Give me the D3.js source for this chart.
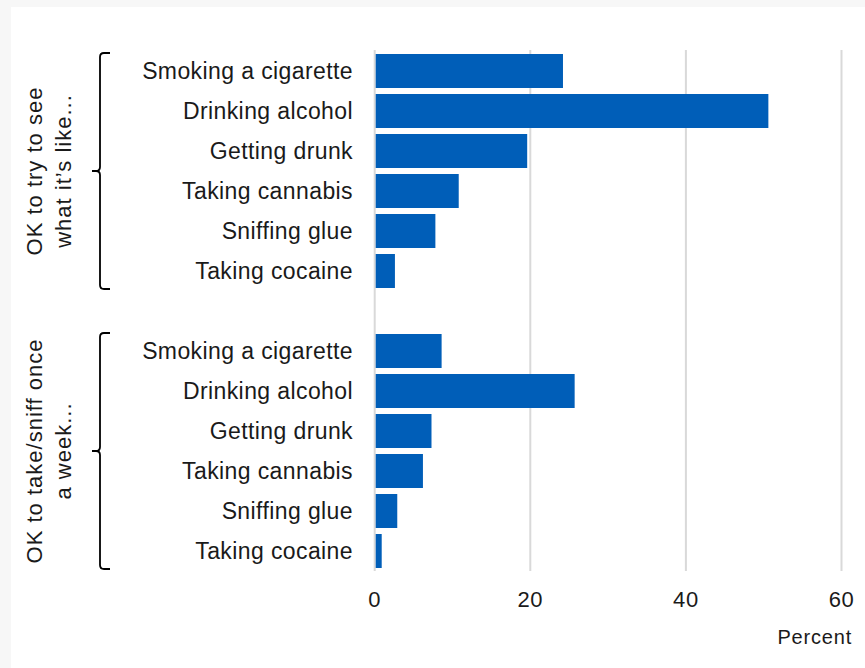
<!DOCTYPE html>
<html>
<head>
<meta charset="utf-8">
<script src="https://cdn.jsdelivr.net/npm/d3@7"></script>
<style>
  html, body { margin: 0; padding: 0; background: #f7f7f7; }
  svg { display: block; font-family: "Liberation Sans", Arial, sans-serif; }
</style>
</head>
<body>
<svg id="chart" width="865" height="668"></svg>
<script>
// ---- Data ----
const categories = ["Smoking a cigarette", "Drinking alcohol", "Getting drunk", "Taking cannabis", "Sniffing glue", "Taking cocaine"];
const groupLabels = [["OK to try to see", "what it\u2019s like..."], ["OK to take/sniff once", "a week..."]];
const tryValues = [24.2, 50.6, 19.6, 10.8, 7.8, 2.6];
const weeklyValues = [8.6, 25.7, 7.3, 6.2, 2.9, 0.9];
const xTicks = [0, 20, 40, 60];
const xTitle = "Percent";

const groupValues = [tryValues, weeklyValues];

// ---- Build rows ----
const rows = [];
const slotKeys = [];
groupValues.forEach((vals, g) => {
  if (g > 0) slotKeys.push("gap" + g);
  categories.forEach((c, i) => {
    const key = g + "-" + i;
    slotKeys.push(key);
    rows.push({ key, group: g, label: c, value: vals[i] });
  });
});

const svg = d3.select("#chart");
svg.append("rect").attr("x", 11).attr("y", 7).attr("width", 865 - 11).attr("height", 668 - 7).attr("fill", "#ffffff");

const x = d3.scaleLinear().domain([0, 60]).range([374.7, 841.5]);
const y = d3.scaleBand().domain(slotKeys).range([51, 571]).paddingInner(0.15).paddingOuter(0.075);

// gridlines
svg.append("g").selectAll("line").data(xTicks).join("line")
  .attr("x1", d => x(d)).attr("x2", d => x(d))
  .attr("y1", 50).attr("y2", 571)
  .attr("stroke", "#d9d9d9").attr("stroke-width", 2);

// bars
svg.append("g").selectAll("rect").data(rows).join("rect")
  .attr("x", x(0) + 1)
  .attr("y", d => y(d.key))
  .attr("width", d => x(d.value) - x(0) - 1)
  .attr("height", y.bandwidth())
  .attr("fill", "#005eb8");

// category labels
svg.append("g").selectAll("text").data(rows).join("text")
  .attr("x", 353)
  .attr("y", d => y(d.key) + y.bandwidth() / 2)
  .attr("dy", "0.35em")
  .attr("text-anchor", "end")
  .attr("font-size", 23)
  .attr("letter-spacing", 0.4)
  .attr("fill", "#1a1a1a")
  .text(d => d.label);

// x tick labels
svg.append("g").selectAll("text").data(xTicks).join("text")
  .attr("x", d => x(d))
  .attr("y", 607)
  .attr("text-anchor", "middle")
  .attr("font-size", 22)
  .attr("letter-spacing", 0.6)
  .attr("fill", "#1a1a1a")
  .text(d => d);

// axis title
svg.append("text")
  .attr("x", 852).attr("y", 644)
  .attr("text-anchor", "end")
  .attr("font-size", 20)
  .attr("letter-spacing", 0.8)
  .attr("fill", "#1a1a1a")
  .text(xTitle);

// brackets + group labels
groupLabels.forEach((lines, g) => {
  const first = y(g + "-0");
  const last = y(g + "-" + (categories.length - 1)) + y.bandwidth();
  const top = first - 1, bot = last + 1;
  const mid = (top + bot) / 2;
  const bx = 100, r = 4;
  const path = d3.path();
  path.moveTo(bx + 10, top);
  path.lineTo(bx + r, top);
  path.quadraticCurveTo(bx, top, bx, top + r);
  path.lineTo(bx, mid - r);
  path.quadraticCurveTo(bx, mid, bx - r, mid);
  path.lineTo(bx - 8, mid);
  path.moveTo(bx - r, mid);
  path.quadraticCurveTo(bx, mid, bx, mid + r);
  path.lineTo(bx, bot - r);
  path.quadraticCurveTo(bx, bot, bx + r, bot);
  path.lineTo(bx + 10, bot);
  svg.append("path").attr("d", path.toString())
    .attr("fill", "none").attr("stroke", "#000").attr("stroke-width", 1.8);

  const baseXs = [42, 71];
  lines.forEach((t, i) => {
    svg.append("text")
      .attr("transform", `translate(${baseXs[i]},${mid}) rotate(-90)`)
      .attr("text-anchor", "middle")
      .attr("font-size", 22)
      .attr("letter-spacing", 1)
      .attr("fill", "#1a1a1a")
      .text(t);
  });
});
</script>
</body>
</html>
